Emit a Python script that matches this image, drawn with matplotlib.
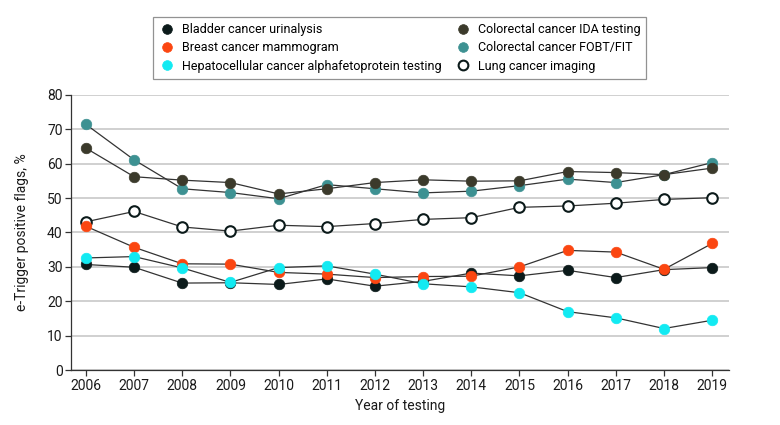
import matplotlib
matplotlib.use('Agg')
import matplotlib.pyplot as plt
from matplotlib.lines import Line2D

plt.rcParams['font.family'] = ['Roboto', 'DejaVu Sans']

years = list(range(2006, 2020))

bladder = [30.7, 29.9, 25.3, 25.4, 24.9, 26.5, 24.4, 25.8, 28.2, 27.4, 29.0, 26.9, 29.2, 29.8]
breast = [41.8, 35.7, 30.9, 30.8, 28.4, 27.9, 26.9, 27.2, 27.3, 30.0, 34.8, 34.3, 29.3, 36.8]
hepato = [32.6, 33.0, 29.7, 25.5, 29.8, 30.3, 27.9, 25.1, 24.2, 22.5, 17.0, 15.2, 12.1, 14.5]
crc_ida = [64.5, 56.2, 55.2, 54.5, 51.2, 52.7, 54.5, 55.3, 54.9, 55.0, 57.7, 57.4, 56.8, 58.7]
crc_fobt = [71.4, 61.1, 52.7, 51.6, 49.8, 53.9, 52.7, 51.5, 52.0, 53.6, 55.5, 54.5, 56.8, 60.3]
lung = [43.1, 46.1, 41.6, 40.4, 42.1, 41.7, 42.6, 43.8, 44.3, 47.3, 47.7, 48.5, 49.6, 50.1]

labels = ['Bladder cancer urinalysis', 'Breast cancer mammogram',
          'Hepatocellular cancer alphafetoprotein testing',
          'Colorectal cancer IDA testing', 'Colorectal cancer FOBT/FIT',
          'Lung cancer imaging']
faces = ['#0b1a1a', '#fb4611', '#12eaf2', '#3b3a2b', '#3d9192', 'white']
edges = ['#0b1a1a', '#fb4611', '#12eaf2', '#3b3a2b', '#3d9192', '#0b1a1a']
series = [bladder, breast, hepato, crc_ida, crc_fobt, lung]

fig = plt.figure(figsize=(7.8, 4.25), dpi=100)
ax = fig.add_axes([0.091, 0.129, 0.843, 0.648])

# draw lines in an order so the coloured markers sit on top
order = [4, 3, 5, 0, 1, 2]
for i in order:
    ax.plot(years, series[i], color='#333333', lw=0.9, zorder=2)
for i in order:
    ax.plot(years, series[i], ls='none', marker='o', ms=7.6,
            mfc=faces[i], mec=edges[i], mew=1.5 if i == 5 else 0.5, zorder=3)

ax.set_xlim(2005.69, 2019.34)
ax.set_ylim(0, 80)
ax.set_xticks(years)
ax.set_yticks(range(0, 81, 10))
ax.yaxis.grid(True, color='#c4c4c4', lw=1.1)
ax.set_axisbelow(True)
for s in ['top', 'right']:
    ax.spines[s].set_visible(False)
for s in ['left', 'bottom']:
    ax.spines[s].set_color('#333333')
    ax.spines[s].set_linewidth(0.9)
ax.tick_params(axis='both', length=4, width=0.9, color='#333333',
               labelsize=10, labelcolor='#1a1a1a', pad=2)
ax.set_xlabel('Year of testing', fontsize=10, color='#1a1a1a', labelpad=5)
ax.set_ylabel('e-Trigger positive flags, %', fontsize=10, color='#1a1a1a', labelpad=13)

handles = [Line2D([], [], ls='none', marker='o', ms=7, mfc=faces[i], mec=edges[i],
                  mew=1.5 if i == 5 else 0.5) for i in range(6)]
leg = fig.legend(handles, labels, loc='upper left', bbox_to_anchor=(0.188, 0.975),
                 ncol=2, frameon=True, fancybox=False, fontsize=9,
                 handletextpad=0.6, columnspacing=1.1, labelspacing=0.42,
                 borderpad=0.5, handlelength=1.2)
leg.get_frame().set_edgecolor('#777777')
leg.get_frame().set_linewidth(0.9)

fig.savefig('out.png', dpi=100)
